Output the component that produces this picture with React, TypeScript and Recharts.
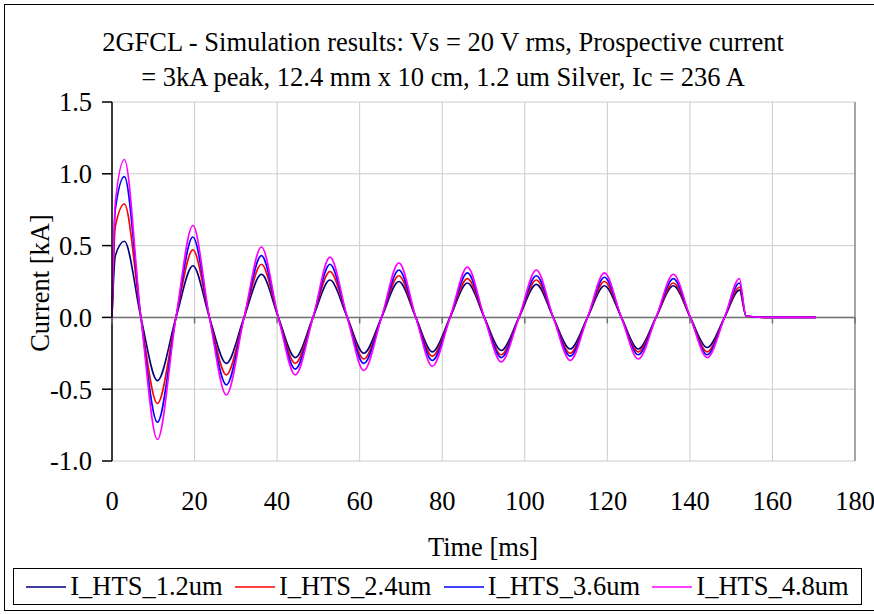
import React from 'react';
import { LineChart, Line, XAxis, YAxis, CartesianGrid, ReferenceLine, Legend } from 'recharts';

const FONT = "'Liberation Serif', 'DejaVu Serif', serif";
const FS = 26.5;

// time samples [ms] read at extrema and zero crossings
const time = [0, 0.8, 3.0, 7.0, 11.0, 15.5, 19.6, 23.6, 27.7, 32.0, 36.2, 40.3, 44.4, 48.7, 52.8, 57.0, 61.0, 65.3, 69.5, 73.6, 77.6, 81.9, 86.1, 90.2, 94.3, 98.6, 102.8, 106.9, 111.0, 115.2, 119.3, 123.4, 127.5, 131.8, 136.0, 140.1, 144.2, 148.4, 152.0, 153.6, 158, 162, 166, 170.5];

const iHts12 = [0, 0.43, 0.53, 0, -0.44, 0, 0.36, 0, -0.32, 0, 0.30, 0, -0.28, 0, 0.26, 0, -0.25, 0, 0.25, 0, -0.24, 0, 0.24, 0, -0.23, 0, 0.23, 0, -0.22, 0, 0.22, 0, -0.22, 0, 0.22, 0, -0.21, 0, 0.19, 0.01, 0, 0, 0, 0];
const iHts24 = [0, 0.63, 0.79, 0, -0.60, 0, 0.47, 0, -0.40, 0, 0.37, 0, -0.32, 0, 0.32, 0, -0.29, 0, 0.29, 0, -0.27, 0, 0.27, 0, -0.26, 0, 0.26, 0, -0.25, 0, 0.25, 0, -0.24, 0, 0.24, 0, -0.24, 0, 0.21, 0.01, 0, 0, 0, 0];
const iHts36 = [0, 0.75, 0.98, 0, -0.73, 0, 0.56, 0, -0.47, 0, 0.43, 0, -0.36, 0, 0.37, 0, -0.32, 0, 0.33, 0, -0.30, 0, 0.31, 0, -0.28, 0, 0.29, 0, -0.27, 0, 0.28, 0, -0.26, 0, 0.27, 0, -0.26, 0, 0.24, 0.01, 0, 0, 0, 0];
const iHts48 = [0, 0.80, 1.10, 0, -0.85, 0, 0.64, 0, -0.54, 0, 0.49, 0, -0.40, 0, 0.42, 0, -0.37, 0, 0.38, 0, -0.34, 0, 0.35, 0, -0.31, 0, 0.33, 0, -0.30, 0, 0.31, 0, -0.29, 0, 0.30, 0, -0.28, 0, 0.27, 0.01, 0, 0, 0, 0];

const seriesNames = ['I_HTS_1.2um', 'I_HTS_2.4um', 'I_HTS_3.6um', 'I_HTS_4.8um'];
const seriesColors = ['#000080', '#ff0000', '#0000ff', '#ff00ff'];
const xTicks = [0, 20, 40, 60, 80, 100, 120, 140, 160, 180];
const yTicks = [-1.0, -0.5, 0.0, 0.5, 1.0, 1.5];
const titleLines = [
  '2GFCL - Simulation results: Vs = 20 V rms, Prospective current',
  '= 3kA peak, 12.4 mm x 10 cm, 1.2 um Silver, Ic = 236 A',
];

const data = time.map((t, i) => ({
  t,
  s0: iHts12[i],
  s1: iHts24[i],
  s2: iHts36[i],
  s3: iHts48[i],
}));

const W = 874;
const H = 614;
const PLOT_TOP = 102;
const PLOT_BOTTOM = 461;
const PLOT_LEFT = 112;
const PLOT_RIGHT = 855;
const Y_MIN = -1.0;
const Y_MAX = 1.5;
const ZERO_Y = PLOT_TOP + ((PLOT_BOTTOM - PLOT_TOP) * (Y_MAX - 0)) / (Y_MAX - Y_MIN);

const XTick = (props: any) => {
  const { x, payload } = props;
  return (
    <g>
      <line x1={x} x2={x} y1={ZERO_Y} y2={ZERO_Y + 6} stroke="#707070" strokeWidth={1.5} />
      <text x={x} y={510} textAnchor="middle" fontFamily={FONT} fontSize={FS} fill="#000">
        {payload.value}
      </text>
    </g>
  );
};

const renderLegend = (props: any) => {
  const { payload } = props;
  return (
    <div
      style={{
        border: '1px solid #000',
        boxSizing: 'border-box',
        width: '100%',
        height: '100%',
        display: 'flex',
        alignItems: 'center',
        justifyContent: 'space-evenly',
        fontFamily: FONT,
        fontSize: FS,
        background: '#fff',
        color: '#000',
        lineHeight: 1,
      }}
    >
      {(payload || []).map((e: any, i: number) => (
        <span key={i} style={{ display: 'flex', alignItems: 'center' }}>
          <svg width={40} height={6}>
            <line x1={0} y1={3} x2={40} y2={3} stroke={e.color} strokeWidth={1.5} />
          </svg>
          <span style={{ marginLeft: 4 }}>{e.value}</span>
        </span>
      ))}
    </div>
  );
};

export default function App() {
  return (
    <div style={{ position: 'absolute', left: 0, top: 0, width: W, height: H, background: '#fff' }}>
      <LineChart
        width={W}
        height={H}
        data={data}
        margin={{ top: PLOT_TOP, right: W - PLOT_RIGHT, bottom: 0, left: 0 }}
      >
        <rect x={4.5} y={4.5} width={W + 10} height={H - 8} fill="none" stroke="#000" strokeWidth={1} />
        <CartesianGrid stroke="#cccccc" strokeWidth={1} />
        <XAxis
          type="number"
          dataKey="t"
          domain={[0, 180]}
          ticks={xTicks}
          interval={0}
          height={H - PLOT_BOTTOM}
          axisLine={false}
          tickLine={false}
          tick={<XTick />}
        />
        <YAxis
          type="number"
          domain={[Y_MIN, Y_MAX]}
          ticks={yTicks}
          interval={0}
          width={PLOT_LEFT}
          axisLine={{ stroke: '#000', strokeWidth: 1.5 }}
          tickLine={{ stroke: '#000', strokeWidth: 1.5 }}
          tickSize={10}
          tickMargin={10}
          tickFormatter={(v: number) => v.toFixed(1)}
          tick={{ fill: '#000', fontFamily: FONT, fontSize: FS }}
        />
        <ReferenceLine x={180} stroke="#909090" strokeWidth={1.5} />
        <ReferenceLine y={0} stroke="#707070" strokeWidth={1.5} />
        {['s0', 's1', 's2', 's3'].map((k, i) => (
          <Line
            key={k}
            type="monotone"
            dataKey={k}
            name={seriesNames[i]}
            stroke={seriesColors[i]}
            strokeWidth={1.6}
            dot={false}
            activeDot={false}
            isAnimationActive={false}
          />
        ))}
        <Legend
          layout="horizontal"
          verticalAlign="middle"
          align="center"
          width={849}
          height={37}
          wrapperStyle={{ top: 568, left: 13, width: 849, height: 37 }}
          content={renderLegend}
        />
        <text x={443} y={51} textAnchor="middle" fontFamily={FONT} fontSize={FS} fill="#000">
          {titleLines[0]}
        </text>
        <text x={443} y={86} textAnchor="middle" fontFamily={FONT} fontSize={FS} fill="#000">
          {titleLines[1]}
        </text>
        <text
          transform="translate(49,283) rotate(-90)"
          textAnchor="middle"
          fontFamily={FONT}
          fontSize={FS}
          fill="#000"
        >
          Current [kA]
        </text>
        <text x={483} y={556} textAnchor="middle" fontFamily={FONT} fontSize={FS} fill="#000">
          Time [ms]
        </text>
      </LineChart>
    </div>
  );
}
